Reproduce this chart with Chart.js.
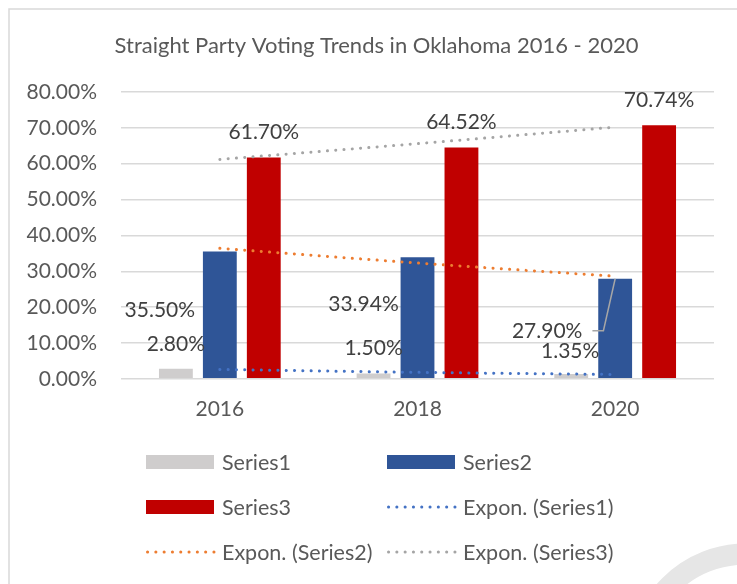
<!DOCTYPE html>
<html>
<head>
<meta charset="utf-8">
<script src="https://cdn.jsdelivr.net/npm/chart.js@4.4.1/dist/chart.umd.min.js"></script>
<style>
  html, body { margin: 0; padding: 0; background: #fff; }
  #votingChart { display: block; }
</style>
</head>
<body>
<canvas id="votingChart" width="737" height="584"></canvas>
<script>
const years = ['2016', '2018', '2020'];
const series1 = [2.80, 1.50, 1.35];
const series2 = [35.50, 33.94, 27.90];
const series3 = [61.70, 64.52, 70.74];
// exponential trend values at each year
const trend1 = [2.6, 1.8, 1.2];
const trend2 = [36.4, 32.3, 28.6];
const trend3 = [61.2, 65.6, 70.2];
const yMax = 80;
const yStep = 10;

const FONT = 'Lato, "Open Sans", sans-serif';
const pct = v => v.toFixed(2) + '%';

// where each value label sits relative to the top of its bar [dx, dy]
const labelOffsets = [
    [[0, -25], [0, -25], [-1, -23]],
    [[-60, 59], [-54, 47], [-68, 52]],
    [[0, -25], [0, -25], [0, -25]]
];
// labels joined to their bar by a leader line
const leaders = [[1, 2]];

// frame, heading and the round watermark in the corner
const frame = {
    id: 'frame',
    beforeDraw(chart) {
        const c = chart.ctx;
        c.save();
        c.fillStyle = '#fff';
        c.fillRect(0, 0, chart.width, chart.height);
        c.strokeStyle = '#d9d9d9';
        c.lineWidth = 1.5;
        c.beginPath();
        c.moveTo(9, chart.height);
        c.lineTo(9, 9);
        c.lineTo(chart.width, 9);
        c.stroke();
        c.restore();
    },
    afterDraw(chart, args, opts) {
        const c = chart.ctx;
        c.save();
        c.font = '22px ' + FONT;
        c.fillStyle = '#595959';
        c.textAlign = 'center';
        c.textBaseline = 'middle';
        c.fillText(opts.title, chart.width / 2 + 8, 46);
        c.strokeStyle = '#e6e6e6';
        c.lineWidth = 21;
        c.beginPath();
        c.arc(746, 662, 108, 0, Math.PI * 2);
        c.stroke();
        c.restore();
    }
};

const valueLabels = {
    id: 'valueLabels',
    afterDatasetsDraw(chart) {
        const c = chart.ctx;
        c.save();
        c.font = '21px ' + FONT;
        c.fillStyle = '#404040';
        c.textAlign = 'center';
        c.textBaseline = 'middle';
        chart.data.datasets.forEach((ds, i) => {
            if (ds.type === 'line') return;
            const meta = chart.getDatasetMeta(i);
            meta.data.forEach((bar, j) => {
                const [dx, dy] = labelOffsets[i][j];
                const tx = bar.x + dx, ty = bar.y + dy;
                const text = pct(ds.data[j]);
                c.fillText(text, tx, ty);
                if (leaders.some(l => l[0] === i && l[1] === j)) {
                    const w = c.measureText(text).width;
                    const sx = tx + w / 2 + 10;
                    c.strokeStyle = '#a6a6a6';
                    c.lineWidth = 1.5;
                    c.beginPath();
                    c.moveTo(sx, ty);
                    c.lineTo(sx + 11, ty);
                    c.lineTo(bar.x, bar.y);
                    c.stroke();
                }
            });
        });
        c.restore();
    }
};

const gridLegend = {
    id: 'gridLegend',
    afterDraw(chart, args, opts) {
        const c = chart.ctx;
        c.save();
        c.font = '21.5px ' + FONT;
        c.textBaseline = 'middle';
        c.textAlign = 'left';
        chart.data.datasets.forEach((ds, i) => {
            const x = opts.left + (i % 2) * opts.colGap;
            const y = opts.top + Math.floor(i / 2) * opts.rowGap;
            if (ds.type === 'line') {
                c.strokeStyle = ds.borderColor;
                c.lineWidth = ds.borderWidth;
                c.lineCap = 'round';
                c.setLineDash(ds.borderDash);
                c.beginPath();
                c.moveTo(x + 1.5, y);
                c.lineTo(x + opts.sample, y);
                c.stroke();
                c.setLineDash([]);
            } else {
                c.fillStyle = ds.backgroundColor;
                c.fillRect(x, y - 7, opts.sample, 14);
            }
            c.fillStyle = '#595959';
            c.fillText(ds.label, x + opts.sample + 8, y + 1);
        });
        c.restore();
    }
};

const dotted = (label, data, color) => ({
    type: 'line',
    label: label,
    data: data,
    borderColor: color,
    borderWidth: 3,
    borderDash: [0.1, 8.2],
    borderCapStyle: 'round',
    pointRadius: 0,
    cubicInterpolationMode: 'monotone',
    fill: false,
    order: 0
});

new Chart(document.getElementById('votingChart'), {
    type: 'bar',
    data: {
        labels: years,
        datasets: [
            { label: 'Series1', data: series1, backgroundColor: '#cfcdcd', order: 1 },
            { label: 'Series2', data: series2, backgroundColor: '#2f5597', order: 1 },
            { label: 'Series3', data: series3, backgroundColor: '#c00000', order: 1 },
            dotted('Expon. (Series1)', trend1, '#4472c4'),
            dotted('Expon. (Series2)', trend2, '#ed7d31'),
            dotted('Expon. (Series3)', trend3, '#a5a5a5')
        ]
    },
    options: {
        responsive: false,
        animation: false,
        categoryPercentage: 0.667,
        barPercentage: 0.77,
        layout: {
            padding: { left: 0, right: 23, top: 92, bottom: 144 }
        },
        plugins: {
            legend: { display: false },
            tooltip: { enabled: false },
            frame: { title: 'Straight Party Voting Trends in Oklahoma 2016 - 2020' },
            gridLegend: { left: 146, colGap: 241, top: 462, rowGap: 45, sample: 68 }
        },
        scales: {
            x: {
                grid: { display: false, drawTicks: false },
                border: { display: false },
                ticks: {
                    color: '#595959',
                    padding: 18,
                    font: { family: FONT, size: 21 }
                }
            },
            y: {
                min: 0,
                max: yMax,
                grid: { color: '#d9d9d9', lineWidth: 1.5, drawTicks: false },
                border: { display: false },
                ticks: {
                    stepSize: yStep,
                    color: '#595959',
                    padding: 24,
                    font: { family: FONT, size: 21 },
                    callback: v => pct(v)
                },
                afterFit(scale) { scale.width = 121; }
            }
        }
    },
    plugins: [frame, valueLabels, gridLegend]
});
</script>
</body>
</html>
